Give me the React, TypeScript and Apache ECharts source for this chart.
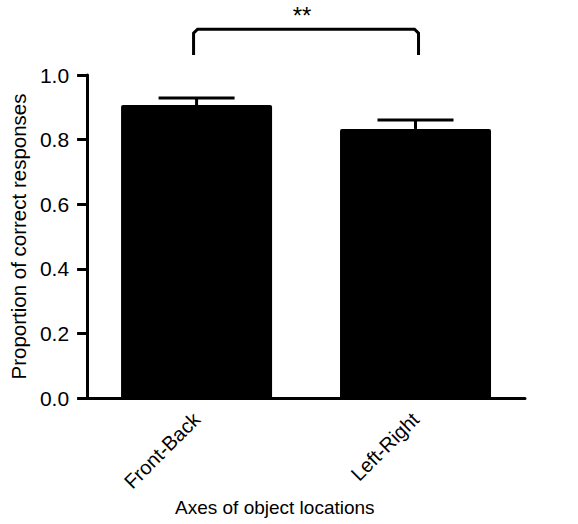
import React, { useEffect, useRef } from "react";
import * as echarts from "echarts";

const categories = ["Front-Back", "Left-Right"];
const means = [0.907, 0.833];
const errors = [0.022, 0.028];
const yTicks = { min: 0, max: 1.0, interval: 0.2 };
const bracketY = [1.062, 1.142];
const significance = "**";

const FONT = "Liberation Sans, Arial, sans-serif";

export default function App() {
  const ref = useRef<HTMLDivElement>(null);
  useEffect(() => {
    if (!ref.current) return;
    const chart = echarts.init(ref.current, undefined, { renderer: "svg" });
    const errData = means.map((m, i) => [i, m, m + errors[i]]);
    const option: any = {
      animation: false,
      backgroundColor: "#ffffff",
      grid: { left: 87, right: 53, top: 75, bottom: 126, containLabel: false },
      xAxis: {
        type: "category",
        data: categories,
        axisLine: { lineStyle: { color: "#000", width: 3 } },
        axisTick: { alignWithLabel: true, length: 12, lineStyle: { color: "#000", width: 3 } },
        axisLabel: { rotate: 45, color: "#000", fontSize: 20, fontFamily: FONT, margin: 18 },
      },
      yAxis: {
        type: "value",
        min: yTicks.min,
        max: yTicks.max,
        interval: yTicks.interval,
        splitLine: { show: false },
        axisLine: { show: true, lineStyle: { color: "#000", width: 3 } },
        axisTick: { show: true, length: 10, lineStyle: { color: "#000", width: 3 } },
        axisLabel: {
          color: "#000",
          fontSize: 21,
          fontFamily: FONT,
          margin: 18,
          formatter: (v: number) => v.toFixed(1),
        },
        name: "Proportion of correct responses",
        nameLocation: "middle",
        nameRotate: 90,
        nameGap: 57,
        nameTextStyle: { color: "#000", fontSize: 20.5, fontFamily: FONT },
      },
      graphic: [
        {
          type: "text",
          left: 175,
          top: 498,
          style: { text: "Axes of object locations", fill: "#000", font: `19px ${FONT}` },
        },
      ],
      series: [
        {
          type: "bar",
          data: means,
          barWidth: 151,
          itemStyle: { color: "#000", borderRadius: [2, 2, 0, 0] },
          z: 2,
        },
        {
          type: "custom",
          data: errData,
          z: 3,
          renderItem: (params: any, api: any) => {
            const x = api.value(0);
            const base = api.coord([x, api.value(1)]);
            const top = api.coord([x, api.value(2)]);
            const half = 38;
            return {
              type: "group",
              children: [
                {
                  type: "line",
                  shape: { x1: top[0], y1: base[1], x2: top[0], y2: top[1] },
                  style: { stroke: "#000", lineWidth: 3 },
                },
                {
                  type: "line",
                  shape: { x1: top[0] - half, y1: top[1], x2: top[0] + half, y2: top[1] },
                  style: { stroke: "#000", lineWidth: 3 },
                },
              ],
            };
          },
        },
        {
          type: "custom",
          data: [[0, 1, bracketY[0], bracketY[1]]],
          clip: false,
          z: 4,
          renderItem: (params: any, api: any) => {
            const a = api.coord([api.value(0), api.value(3)]);
            const b = api.coord([api.value(1), api.value(3)]);
            const lo = api.coord([api.value(0), api.value(2)]);
            const r = 4;
            const pts = [
              [a[0] - 3, lo[1]],
              [a[0] - 3, a[1] + r],
              [a[0] - 3 + r, a[1]],
              [b[0] + 3 - r, b[1]],
              [b[0] + 3, b[1] + r],
              [b[0] + 3, lo[1]],
            ];
            return {
              type: "group",
              children: [
                {
                  type: "polyline",
                  shape: { points: pts },
                  style: { stroke: "#000", lineWidth: 3, fill: null },
                },
                {
                  type: "text",
                  x: (a[0] + b[0]) / 2 - 4,
                  y: a[1] - 2,
                  style: {
                    text: significance,
                    fill: "#000",
                    font: `24px ${FONT}`,
                    align: "center",
                    verticalAlign: "bottom",
                  },
                },
              ],
            };
          },
        },
        {
          type: "custom",
          data: [[1.5, 0]],
          clip: false,
          z: 1,
          renderItem: (params: any, api: any) => {
            const p = api.coord([api.value(0), api.value(1)]);
            return {
              type: "line",
              shape: { x1: p[0] - 2, y1: p[1], x2: 578, y2: p[1] },
              style: { stroke: "#000", lineWidth: 3 },
            };
          },
        },
      ],
    };
    chart.setOption(option);
    return () => chart.dispose();
  }, []);
  return (
    <div
      ref={ref}
      style={{ position: "fixed", left: 0, top: 0, width: 578, height: 524, background: "#fff" }}
    />
  );
}
